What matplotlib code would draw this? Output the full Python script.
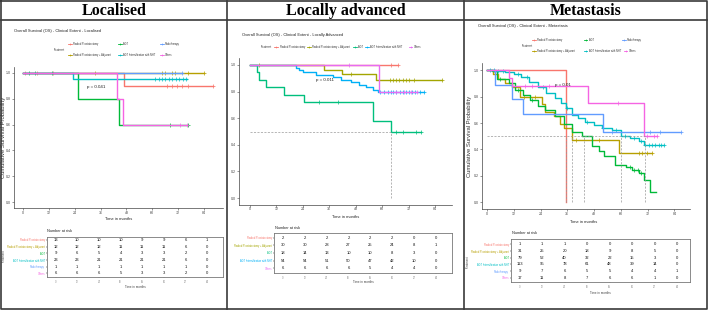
import numpy as np
import matplotlib
matplotlib.use("Agg")
import matplotlib.pyplot as plt
from matplotlib import font_manager

W, H = 709, 311

installed = {f.name for f in font_manager.fontManager.ttflist}
NARROW = 'Liberation Sans Narrow' in installed
plt.rcParams['font.family'] = ['Liberation Sans Narrow', 'Liberation Sans', 'DejaVu Sans']
FS = 1.2 if NARROW else 1.0   # narrow font needs bigger size for same width

month_ticks = [0, 12, 24, 36, 48, 60, 72, 84]
headers = ["Localised", "Locally advanced", "Metastasis"]
subtitles = ["Overall Survival (OS) - Clinical Extent - Localised",
             "Overall Survival (OS) - Clinical Extent - Locally Advanced",
             "Overall Survival (OS) - Clinical Extent - Metastasis"]
p_values = ["p = 0.041", "p = 0.011", "p = 0.01"]

groups6 = ["Radical Prostatectomy", "Radical Prostatectomy + Adjuvant", "ADT",
           "ADT Intensification with NHT", "Radiotherapy", "Others"]
groups5 = ["Radical Prostatectomy", "Radical Prostatectomy + Adjuvant", "ADT",
           "ADT Intensification with NHT", "Others"]
colors6 = ["#F8766D", "#B79F00", "#00BA38", "#00BFC4", "#619CFF", "#F564E3"]
colors5 = ["#F8766D", "#A3A500", "#00BF7D", "#00B0F6", "#E76BF3"]

# ---- Localised ----
loc_times = [[0, 47], [0], [0, 25.5, 44.5], [0, 23], [0], [0, 43.5, 46.5]]
loc_surv = [[1, 0.9], [1], [1, 0.8, 0.6], [1, 0.957], [1], [1, 0.8, 0.6]]
loc_end = [88.3, 83.9, 76.7, 76.2, 73.6, 76.2]
loc_cens = [[0.9, 6.3, 14.1, 66.7, 69, 71.3, 73.6, 76.7, 88.3],
            [33.4, 64.3, 65.9, 69, 70.5, 76.7, 83.9],
            [2.8, 5.6, 13.3, 68.2, 76.7],
            [61.3, 62.9, 64.5, 66.1, 67.7, 69.3, 70.9, 72.5, 74.1, 75.7],
            [73.6],
            [72.8, 76.2]]
loc_risk = [[13, 10, 10, 10, 9, 9, 6, 1], [12, 12, 12, 11, 11, 11, 6, 0],
            [9, 6, 5, 4, 3, 3, 2, 0], [23, 23, 21, 21, 21, 21, 6, 0],
            [1, 1, 1, 1, 1, 1, 1, 0], [6, 6, 6, 5, 3, 3, 2, 0]]
loc_medians = []

# ---- Locally advanced ----
la_times = [[0], [0, 33.6, 41.8, 57.2],
            [0, 3.0, 3.9, 7.3, 15.6, 24.7, 55.8, 64.1],
            [0, 21, 22.4, 24, 30, 37.6, 41.4, 45.9, 49.7, 52.7, 55.8, 58],
            [0, 58.5]]
la_surv = [[1], [1, .966, .931, .89],
           [1, .944, .889, .833, .778, .722, .578, .5],
           [1, .981, .963, .944, .926, .907, .889, .87, .852, .833, .815, .796],
           [1, .8]]
la_end = [67, 87.2, 77.7, 79, 76]
la_cens = [[64, 67],
           [4.2, 45.9, 63.6, 64.8, 66.3, 67.8, 69.3, 70.8, 72.4, 74.6, 87.2],
           [31.5, 39.8, 66.5, 69.5, 75.5, 77.7],
           [59, 61, 62.5, 64, 65, 66.5, 68, 69.5, 71, 72, 73.5, 75, 77, 79],
           [45, 66.5, 70, 73, 76]]
la_risk = [[2, 2, 2, 2, 2, 2, 0, 0], [30, 30, 28, 27, 25, 24, 8, 1],
           [18, 14, 13, 10, 10, 8, 3, 0], [54, 54, 51, 50, 47, 42, 10, 0],
           [6, 6, 6, 6, 5, 4, 4, 0]]
la_medians = [64.1]

# ---- Metastasis ----
met_times = [[0, 35.2],
             [0, 2.5, 5, 8, 11, 15, 24.7, 26.2, 29.9, 32.9, 34.4, 37.9, 59.1],
             [0, 2.2, 4.5, 9.7, 12.7, 16, 19.5, 23, 26.2, 30.4, 34.4, 38.2, 42.7,
              47.1, 50, 52.4, 57.6, 62.1, 65.1, 68.1, 70.4, 72.9],
             [0, 4, 8.2, 12, 15.4, 19, 22.9, 26.5, 30.4, 33, 35.2, 38.2, 41, 44.1,
              48, 51.6, 56.1, 59.9, 64, 68, 70.4],
             [0, 3.7, 11, 16, 52],
             [0, 9.7, 11.2, 45.4, 70.6]]
met_surv = [[1, 0],
            [1, .968, .935, .903, .87, .80, .74, .68, .65, .59, .56, .47, .37],
            [1, .99, .93, .90, .85, .81, .77, .73, .70, .65, .59, .53, .50, .43,
             .39, .35, .28, .27, .245, .225, .17, .08],
            [1, .99, .985, .97, .95, .91, .875, .83, .787, .75, .71, .66, .635, .61,
             .585, .56, .548, .50, .485, .465, .435],
            [1, .889, .778, .667, .533],
            [1, .94, .88, .75, .5]]
met_end = [35.2, 74, 75.6, 79.3, 86.8, 76.3]
met_cens = [[],
            [16.8, 21.3, 40, 50, 68, 69.6, 71.8, 74],
            [6, 14, 20, 64, 66, 67.5, 69],
            [1.5, 3, 5, 7, 10, 14, 18, 25, 36, 45, 52, 58, 62, 66, 69, 71, 72.5,
             74, 75.5, 77, 78, 79.3],
            [56.1, 73.2, 77.6, 86.8],
            [17.2, 20.2, 27.7, 58.8, 71.8, 74.8, 76.3]]
met_risk = [[1, 1, 1, 0, 0, 0, 0, 0], [31, 25, 20, 18, 9, 8, 5, 0],
            [79, 52, 40, 32, 22, 15, 3, 0], [113, 95, 78, 61, 48, 39, 14, 0],
            [9, 7, 6, 5, 5, 4, 4, 1], [17, 11, 8, 7, 6, 6, 1, 0]]
met_medians = [35.2, 37.9, 43.4, 59.9, 70.8]

# layout in pixels (x0, y0, x1, y1), y measured from the top
panels = [
    dict(times=loc_times, surv=loc_surv, end=loc_end, cens=loc_cens, risk=loc_risk,
         groups=groups6, colors=colors6, medians=loc_medians, k=0,
         header_x=114.5, sub_xy=(14, 31),
         plot=(14, 66.55, 223, 208.45), xlim=(-4.2, 92.8),
         table=(47, 237, 223, 277), txlim=(-4.8, 92.7), tylim=(5.55, -0.45),
         xlab=(118.5, 219.3), risk_title=(47, 230.7), txlab=(135, 287),
         ylab=(4, 137), treat=(4, 256), legend_title=(54, 50),
         legend=[(0, 68, 44.3), (2, 118, 44.3), (4, 160, 44.3),
                 (1, 68, 55), (3, 118, 55), (5, 160, 55)]),
    dict(times=la_times, surv=la_surv, end=la_end, cens=la_cens, risk=la_risk,
         groups=groups5, colors=colors5, medians=la_medians, k=1,
         header_x=346, sub_xy=(242, 35),
         plot=(239, 58.35, 452, 204.65), xlim=(-5.0, 91.7),
         table=(274, 233, 452, 273), txlim=(-4.9, 92.8), tylim=(4.66, -0.66),
         xlab=(346, 217), risk_title=(275, 228), txlab=(363, 282),
         ylab=None, treat=None, legend_title=(261, 47.3),
         legend=[(0, 274.3, 47.3), (1, 307, 47.3), (2, 353.3, 47.3),
                 (3, 365.3, 47.3), (4, 408.7, 47.3)]),
    dict(times=met_times, surv=met_surv, end=met_end, cens=met_cens, risk=met_risk,
         groups=groups6, colors=colors6, medians=met_medians, k=2,
         header_x=586, sub_xy=(478, 26),
         plot=(482, 63.4, 690, 209.1), xlim=(-2.24, 91.0),
         table=(511, 239, 690, 282), txlim=(-4.6, 90.9), tylim=(5.65, -0.8),
         xlab=(583.7, 221.7), risk_title=(512, 233), txlab=(600, 292.7),
         ylab=(469, 136), treat=(467.5, 262), legend_title=(522, 45.7),
         legend=[(0, 532, 40), (2, 583.7, 40), (4, 622, 40),
                 (1, 532, 51), (3, 583.7, 51), (5, 623.7, 51)]),
]


def rect(x0, y0, x1, y1):
    return [x0 / W, 1 - y1 / H, (x1 - x0) / W, (y1 - y0) / H]


fig = plt.figure(figsize=(W / 100, H / 100), dpi=100)
fig.patch.set_facecolor('white')

# overlay in pixel coords for frame, headers and legends
ov = fig.add_axes([0, 0, 1, 1])
ov.set_xlim(0, W)
ov.set_ylim(H, 0)
ov.axis('off')
fc = '#3a3a3a'
ov.plot([1, 707, 707, 1, 1], [1, 1, 309, 309, 1], color=fc, lw=1.2)
ov.plot([1, 707], [20, 20], color=fc, lw=1.2)
for xd in (227, 464):
    ov.plot([xd, xd], [1, 309], color=fc, lw=1.2)

for p in panels:
    k = p['k']
    ov.text(p['header_x'], 11, headers[k], ha='center', va='center', fontsize=11.5,
            fontweight='bold', family='Liberation Serif')
    ov.text(p['sub_xy'][0], p['sub_xy'][1], subtitles[k], ha='left', va='center',
            fontsize=2.9 * FS, color='#222')
    ov.text(p['legend_title'][0], p['legend_title'][1], "Treatment", ha='left',
            va='center', fontsize=1.8 * FS, color='#333')
    for gi, lx, ly in p['legend']:
        col = p['colors'][gi]
        ov.plot([lx, lx + 3.6], [ly, ly], color=col, lw=0.6)
        ov.plot(lx + 1.8, ly, marker='+', ms=2, mew=0.4, color=col)
        ov.text(lx + 5.2, ly, p['groups'][gi], ha='left', va='center',
                fontsize=1.85 * FS, color='#333')
    ov.text(p['xlab'][0], p['xlab'][1], "Time in months", ha='center', va='center',
            fontsize=2.85 * FS, color='#222')
    ov.text(p['risk_title'][0], p['risk_title'][1], "Number at risk", ha='left',
            va='center', fontsize=2.8 * FS, color='#222')
    ov.text(p['txlab'][0], p['txlab'][1], "Time in months", ha='center', va='center',
            fontsize=2.2 * FS, color='#444')
    if p['ylab']:
        ov.text(p['ylab'][0], p['ylab'][1], "Cumulative Survival Probability",
                ha='center', va='center', rotation=90, fontsize=4.2 * FS, color='#333')
    if p['treat']:
        ov.text(p['treat'][0], p['treat'][1], "Treatment", ha='center', va='center',
                rotation=90, fontsize=2.0 * FS, color='#444')

    # survival curves
    ax = fig.add_axes(rect(*p['plot']))
    ax.patch.set_alpha(0)
    for t, s, e, c, col in zip(p['times'], p['surv'], p['end'], p['cens'], p['colors']):
        ax.step(list(t) + [e], list(s) + [s[-1]], where='post', color=col, lw=1.0)
        if c:
            idx = np.searchsorted(t, c, side='right') - 1
            ax.plot(c, np.array(s)[idx], ls='none', marker='+', ms=2.6, mew=0.5,
                    color=col)
    if p['medians']:
        ax.plot([0, max(p['medians'])], [0.5, 0.5], ls=(0, (3, 2)), color='#999',
                lw=0.5)
        for m in p['medians']:
            ax.plot([m, m], [0, 0.5], ls=(0, (3, 2)), color='#999', lw=0.5)
    ax.text(34, 0.89, p_values[k], ha='center', va='center', fontsize=3.2 * FS,
            color='#222')
    ax.set_xlim(*p['xlim'])
    ax.set_ylim(-0.05, 1.05)
    ax.set_xticks(month_ticks)
    ax.set_yticks([0, 0.2, 0.4, 0.6, 0.8, 1.0])
    ax.set_yticklabels(["0.0", "0.2", "0.4", "0.6", "0.8", "1.0"])
    for sp in ('top', 'right'):
        ax.spines[sp].set_visible(False)
    for sp in ('left', 'bottom'):
        ax.spines[sp].set_linewidth(0.5)
        ax.spines[sp].set_color('#444')
    ax.tick_params(labelsize=2.6 * FS, length=1.2, width=0.4, pad=0.8,
                   colors='#444')

    # risk table
    tb = fig.add_axes(rect(*p['table']))
    tb.patch.set_alpha(0)
    for i, row in enumerate(p['risk']):
        for j, v in enumerate(row):
            tb.text(month_ticks[j], i, str(v), ha='center', va='center',
                    fontsize=3.0 * FS, color='#111')
    tb.set_xlim(*p['txlim'])
    tb.set_ylim(*p['tylim'])
    tb.set_xticks(month_ticks)
    tb.set_yticks(range(len(p['groups'])))
    tb.set_yticklabels(p['groups'])
    for lab, col in zip(tb.get_yticklabels(), p['colors']):
        lab.set_color(col)
    tb.tick_params(axis='y', labelsize=1.85 * FS, length=1, width=0.3, pad=0.5)
    tb.tick_params(axis='x', labelsize=1.8 * FS, length=1, width=0.3, pad=1,
                   labelcolor='#888', color='#888')
    for sp in tb.spines.values():
        sp.set_linewidth(0.6)
        sp.set_color('#777')

fig.savefig("out.png", dpi=100)
